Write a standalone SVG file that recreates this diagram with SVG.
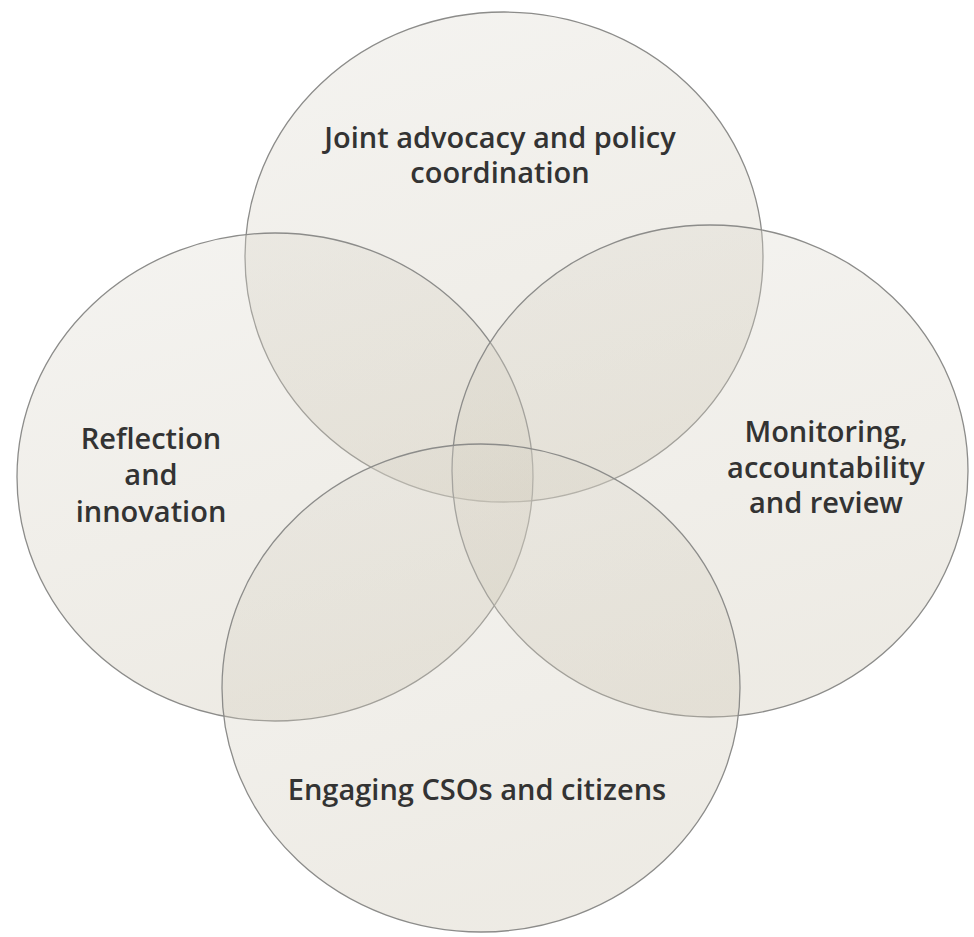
<svg xmlns="http://www.w3.org/2000/svg" width="974" height="937" viewBox="0 0 974 937">
  <defs>
    <linearGradient id="fillGrad" x1="0" y1="0" x2="0.3" y2="1">
      <stop offset="0" stop-color="#dedbd2"/>
      <stop offset="1" stop-color="#c9c1ad"/>
    </linearGradient>
  </defs>
  <style>
    .circle { fill: url(#fillGrad); fill-opacity: 0.32; stroke: #8c8c8a; stroke-width: 1.3; }
    .label { font-family: "Open Sans", "Liberation Sans", sans-serif; font-size: 29px; font-weight: 600; fill: #333333; text-anchor: middle; }
  </style>
  <rect width="974" height="937" fill="#ffffff"/>
  <g id="node-top">
    <ellipse class="circle" cx="504" cy="257" rx="259" ry="245"/>
    <text class="label" x="500" y="148">Joint advocacy and policy</text>
    <text class="label" x="500" y="183">coordination</text>
  </g>
  <g id="node-left">
    <ellipse class="circle" cx="275" cy="477" rx="258" ry="244"/>
    <text class="label" x="151" y="449">Reflection</text>
    <text class="label" x="151" y="485">and</text>
    <text class="label" x="151" y="522">innovation</text>
  </g>
  <g id="node-right">
    <ellipse class="circle" cx="710" cy="471" rx="258" ry="246"/>
    <text class="label" x="826" y="442">Monitoring,</text>
    <text class="label" x="826" y="478">accountability</text>
    <text class="label" x="826" y="513">and review</text>
  </g>
  <g id="node-bottom">
    <ellipse class="circle" cx="481" cy="688" rx="259" ry="244"/>
    <text class="label" x="477" y="800">Engaging CSOs and citizens</text>
  </g>
</svg>
